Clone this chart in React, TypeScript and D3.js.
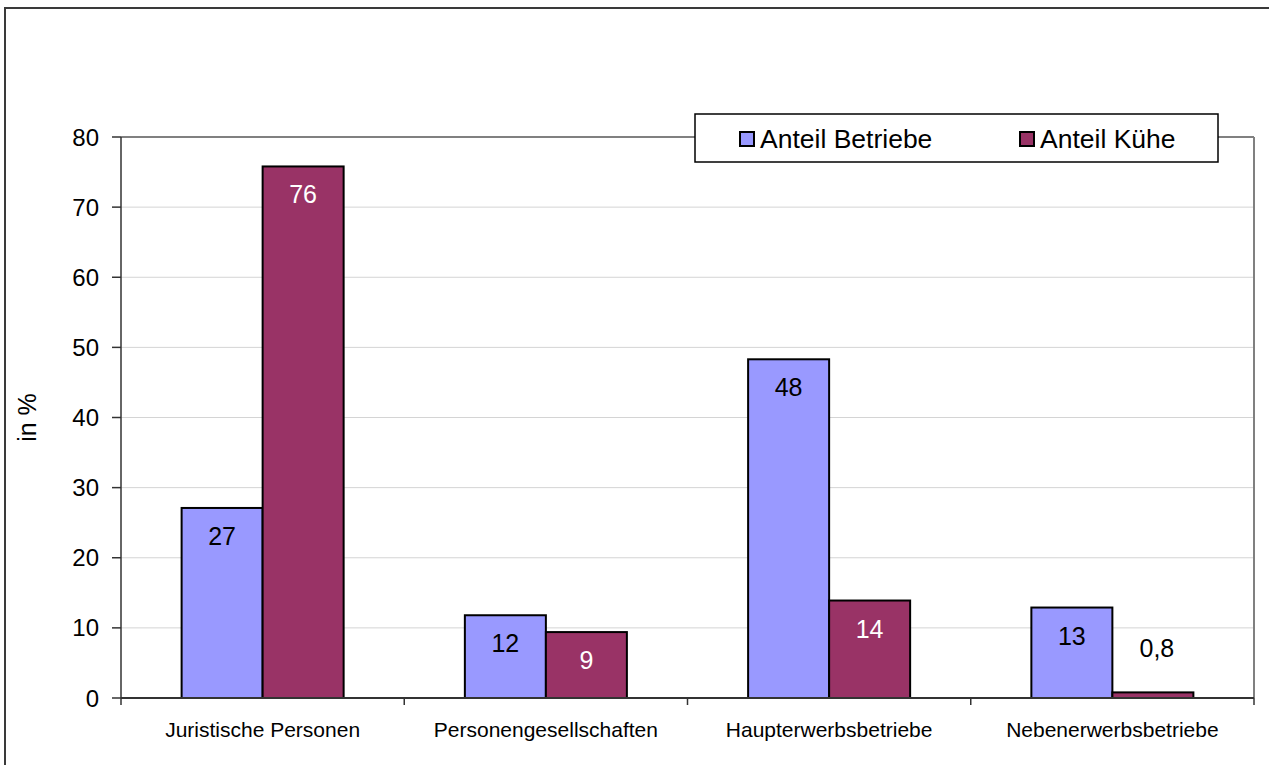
import React from "react";
import * as d3 from "d3";

const categories = ["Juristische Personen", "Personengesellschaften", "Haupterwerbsbetriebe", "Nebenerwerbsbetriebe"];
const seriesNames = ["Anteil Betriebe", "Anteil Kühe"];
const betriebe = [27.1, 11.8, 48.3, 12.9];
const kuehe = [75.8, 9.4, 13.9, 0.8];
const yTicks = [0, 10, 20, 30, 40, 50, 60, 70, 80];
const colors = ["#9999FF", "#993366"];
const labelColors = ["#000000", "#FFFFFF"];

const W = 1269;
const H = 765;
const plot = { left: 121, right: 1254, top: 137, bottom: 698 };

function fmt(v: number): string {
  if (v < 1) return d3.format(".1f")(v).replace(".", ",");
  return String(Math.round(v));
}

export default function App() {
  const x0 = d3.scaleBand<string>().domain(categories).range([plot.left, plot.right]).padding(0);
  const bw = x0.bandwidth();
  const gw = bw * 0.572;
  const x1 = d3.scaleBand<string>().domain(seriesNames).range([(bw - gw) / 2, (bw + gw) / 2]).padding(0);
  const y = d3.scaleLinear().domain([0, 80]).range([plot.bottom, plot.top]);
  const data = [betriebe, kuehe];
  const font = "'Liberation Sans', Arial, sans-serif";
  const boundaries = [...categories.map((c) => x0(c) as number), plot.right];

  return (
    <svg width={W} height={H} style={{ position: "absolute", left: 0, top: 0, background: "#fff" }} fontFamily={font}>
      <rect x={0} y={0} width={W} height={H} fill="#fff" />
      {/* outer chart border */}
      <rect x={5} y={8} width={1400} height={900} fill="none" stroke="#3a3a3a" strokeWidth={2} />
      {/* gridlines */}
      {yTicks.filter((t) => t > 0 && t < 80).map((t) => (
        <line key={"g" + t} x1={plot.left} x2={plot.right} y1={y(t)} y2={y(t)} stroke="#d4d4d4" strokeWidth={1} />
      ))}
      {/* plot border top & right */}
      <line x1={plot.left} x2={plot.right} y1={plot.top} y2={plot.top} stroke="#808080" strokeWidth={2} />
      <line x1={plot.right} x2={plot.right} y1={plot.top} y2={plot.bottom} stroke="#808080" strokeWidth={2} />
      {/* bars */}
      {categories.map((c, i) =>
        seriesNames.map((s, j) => {
          const v = data[j][i];
          const bx = (x0(c) as number) + (x1(s) as number);
          const by = y(v);
          return (
            <rect key={c + s} x={bx} y={by} width={x1.bandwidth()} height={plot.bottom - by}
              fill={colors[j]} stroke="#000" strokeWidth={2} />
          );
        })
      )}
      {/* axes */}
      <line x1={plot.left} x2={plot.left} y1={plot.top} y2={plot.bottom} stroke="#333" strokeWidth={1.5} />
      <line x1={plot.left} x2={plot.right} y1={plot.bottom} y2={plot.bottom} stroke="#333" strokeWidth={2} />
      {yTicks.map((t) => (
        <g key={"t" + t}>
          <line x1={plot.left - 9} x2={plot.left} y1={y(t)} y2={y(t)} stroke="#333" strokeWidth={1.5} />
          <text x={99} y={y(t) + 8.5} fontSize={24} textAnchor="end" fill="#000">{t}</text>
        </g>
      ))}
      {boundaries.map((bx, i) => (
        <line key={"xt" + i} x1={bx} x2={bx} y1={plot.bottom} y2={plot.bottom + 7} stroke="#333" strokeWidth={1.5} />
      ))}
      {categories.map((c) => (
        <text key={"c" + c} x={(x0(c) as number) + bw / 2} y={737} fontSize={21} textAnchor="middle" fill="#000">{c}</text>
      ))}
      {/* data labels */}
      {categories.map((c, i) =>
        seriesNames.map((s, j) => {
          const v = data[j][i];
          const cx = (x0(c) as number) + (x1(s) as number) + x1.bandwidth() / 2;
          const by = y(v);
          const inside = plot.bottom - by > 45;
          if (inside) {
            return (
              <text key={"l" + c + s} x={cx} y={by + 37} fontSize={25} textAnchor="middle" fill={labelColors[j]}>{fmt(v)}</text>
            );
          }
          return (
            <g key={"l" + c + s}>
              <rect x={cx + 4 - 42} y={by - 60} width={85} height={32} fill="#fff" />
              <text x={cx + 4} y={by - 35} fontSize={25} textAnchor="middle" fill="#000">{fmt(v)}</text>
            </g>
          );
        })
      )}
      {/* y axis title */}
      <text transform={`translate(36, ${(plot.top + plot.bottom) / 2}) rotate(-90)`} fontSize={25} textAnchor="middle" fill="#000">in %</text>
      {/* legend */}
      <rect x={695} y={114} width={523} height={48} fill="#fff" stroke="#000" strokeWidth={1.5} />
      {seriesNames.map((s, j) => {
        const lx = j === 0 ? 740 : 1020;
        return (
          <g key={"lg" + s}>
            <rect x={lx} y={132} width={14} height={14} fill={colors[j]} stroke="#000" strokeWidth={2} />
            <text x={lx + 20} y={148} fontSize={26.5} fill="#000">{s}</text>
          </g>
        );
      })}
    </svg>
  );
}
